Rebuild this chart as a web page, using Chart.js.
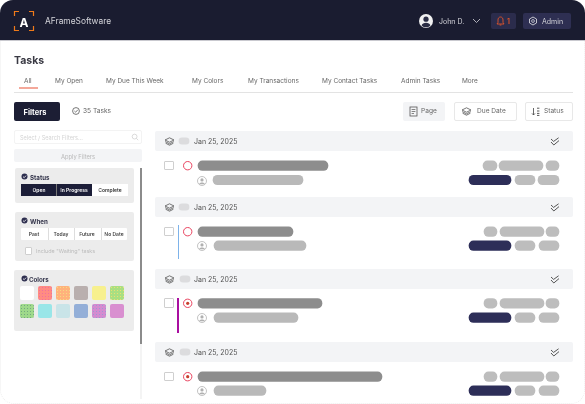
<!DOCTYPE html>
<html>
<head>
<meta charset="utf-8">
<title>Tasks</title>
<script src="https://cdn.jsdelivr.net/npm/chart.js@4"></script>
<style>
html, body { margin: 0; padding: 0; background: #fff; }
body { width: 585px; height: 404px; overflow: hidden; position: relative; font-family: Inter, sans-serif; color: #555; }
#ui { position: absolute; left: 0; top: 0; width: 585px; height: 404px; }
#ui div, #ui span, #ui svg { position: absolute; box-sizing: border-box; }
.t { white-space: nowrap; transform: translateY(-50%); will-change: transform; }
.c { white-space: nowrap; transform: translate(-50%, -50%); will-change: transform; }
#wrap { position: absolute; left: 0; top: 0; width: 585px; height: 404px; pointer-events: none; }
</style>
</head>
<body>
<div id="ui"></div>
<div id="wrap"><canvas id="tasks"></canvas></div>
<script>
// labels
const tabs = ['All', 'My Open', 'My Due This Week', 'My Colors', 'My Transactions', 'My Contact Tasks', 'Admin Tasks', 'More'];
const tabX = [24, 55, 106, 192, 248, 322, 401, 462];
const statusOptions = ['Open', 'In Progress', 'Complete'];
const whenOptions = ['Past', 'Today', 'Future', 'No Date'];
const swatches = [
  ['#ffffff', null], ['#ff8c82', '#ee6fa0'], ['#ffb27c', '#f5dc80'], ['#b9afae', null], ['#f7f08e', null], ['#a9df82', '#ecdf70'],
  ['#9fd98b', '#74a880'], ['#99e6e8', null], ['#c9e4e8', null], ['#94afd8', null], ['#d48bd0', '#9a9ad4'], ['#d98fd0', null]
];

// task rows
const headerRows = [141, 207, 279, 352];
const headerChipStart = [179, 179, 180, 180];
const headerChipEnd = [189, 189, 190, 190];
const titleRows = [165.7, 231.7, 303.3, 376.7];
const titleStart = [198, 198, 198, 198];
const titleEnd = [328, 293, 322, 382];
const ownerRows = [180, 245.7, 317.7, 390.7];
const ownerStart = [213, 214, 214, 214];
const ownerEnd = [303, 306, 298, 266];
const chipAStart = [483, 484, 484, 484];
const chipAEnd = [497, 497, 497, 497];
const chipBStart = [499, 500, 500, 500];
const chipBEnd = [543, 544, 544, 544];
const chipCStart = [546, 546, 546, 546];
const chipCEnd = [559, 559, 559, 559];
const badgeStart = [469, 469, 469, 469];
const badgeEnd = [511, 511, 511, 511];
const chipDStart = [515, 515, 515, 515];
const chipDEnd = [535, 535, 535, 535];
const chipEStart = [538, 539, 539, 539];
const chipEEnd = [559, 559, 559, 559];
const dotted = [false, false, true, true];

const ui = document.getElementById('ui');

function box(x, y, w, h, css) {
  let d = document.createElement('div');
  d.style.cssText = `left:${x}px;top:${y}px;width:${w}px;height:${h}px;${css || ''}`;
  ui.appendChild(d);
  return d;
}
function text(str, x, y, size, color, weight, center) {
  let d = document.createElement('span');
  d.className = center ? 'c' : 't';
  d.textContent = str;
  d.style.cssText = `left:${x}px;top:${y}px;font-size:${size}px;color:${color};font-weight:${weight || 400};`;
  ui.appendChild(d);
  return d;
}
function icon(x, y, w, h, inner) {
  let holder = document.createElement('div');
  holder.style.cssText = `left:${x}px;top:${y}px;width:${w}px;height:${h}px;`;
  holder.innerHTML = `<svg style="left:0;top:0" width="${w}" height="${h}" viewBox="0 0 ${w} ${h}" fill="none">${inner}</svg>`;
  ui.appendChild(holder);
}
function layers(x, y, col) {
  icon(x, y, 11, 9, `<path d="M5.5 .8 10 3 5.5 5.2 1 3Z M1.2 4.6 5.5 6.8 9.8 4.6 M1.6 6.2 5.5 8.2 9.4 6.2" stroke="${col}" stroke-width=".8"/>`);
}
function doubleCheck(x, y) {
  icon(x, y, 10, 9, `<path d="M1 2 3.6 4.4 8.6 .8 M1 5 3.8 8 9 3.6" stroke="#444" stroke-width=".9"/>`);
}
function avatar(x, y) {
  icon(x, y, 10, 10, `<circle cx="5" cy="5" r="4.5" fill="#fff" stroke="#b4b4b4" stroke-width=".8"/><circle cx="5" cy="3.9" r="1.6" fill="#b0b0b0"/><path d="M2 8.2C2.6 5.8 7.4 5.8 8 8.2Z" fill="#b0b0b0"/>`);
}
function tick(x, y) {
  icon(x, y, 7, 7, `<circle cx="3.5" cy="3.5" r="3" fill="#2e2f4f"/><path d="M2 3.6 3.2 4.7 5.1 2.6" stroke="#fff" stroke-width=".8"/>`);
}

// page edge
box(0, 0, 585, 404, 'border-radius:14px;border:1px dotted #eee;');

// top bar
box(0, 0, 585, 41, 'background:#1a1c30;border-radius:13px 13px 0 0;border-bottom:1px solid #c9c9cf;');
icon(13, 10, 22, 22, `<path d="M1.5 6V1.5H6 M16 1.5H20.5V6 M1.5 16V20.5H6 M16 20.5H20.5V16" stroke="#f07a1a" stroke-width="1.2"/>`);
text('A', 24, 21.5, 12, '#fff', 700, true);
text('AFrameSoftware', 45, 20.5, 8.4, '#d4d4da', 400);
icon(419, 14, 14, 14, `<circle cx="7" cy="7" r="7" fill="#f1f1f1"/><circle cx="7" cy="5.2" r="2.6" fill="#2a2c44"/><path d="M2.6 11.4C3.4 8 10.6 8 11.4 11.4 9 14 5 14 2.6 11.4Z" fill="#2a2c44"/>`);
text('John D.', 439, 20.5, 7, '#d4d4da');
icon(472, 18, 9, 6, `<path d="M1 1 4.5 4.5 8 1" stroke="#d4d4da" stroke-width=".8"/>`);
box(491, 13, 25, 16, 'background:#2b2c4c;border-radius:2px;');
icon(496, 16, 9, 10, `<path d="M4.5 1C2.8 1 2 2.4 2 4V6.4L1 8H8L7 6.4V4C7 2.4 6.2 1 4.5 1Z M3.6 9H5.4" stroke="#e2552a" stroke-width=".9"/>`);
text('1', 507, 20.5, 7, '#e2552a', 600);
box(523, 13, 48, 16, 'background:#2e2f52;border-radius:2px;');
icon(528, 16, 10, 10, `<path d="M5 1 8.5 3V7L5 9 1.5 7V3Z" stroke="#d4d4da" stroke-width=".9"/><circle cx="5" cy="5" r="1.4" stroke="#d4d4da" stroke-width=".8"/>`);
text('Admin', 541.5, 20.5, 7, '#d4d4da', 400);

// title and tabs
text('Tasks', 14, 60, 10.5, '#3a3a44', 700);
tabs.forEach((label, i) => text(label, tabX[i], 80.5, 6.5, '#666'));
box(19, 87, 19, 1.5, 'background:#f4a89a;');
box(14, 92, 559, 1, 'background:#e3e3e3;');

// toolbar
box(14, 102, 46, 19, 'background:#1c1e34;border-radius:2px;');
text('Filters', 35, 111.5, 7.5, '#fff', 700, true);
icon(71, 106, 10, 10, `<circle cx="5" cy="5" r="3.4" stroke="#555" stroke-width=".8"/><path d="M3.4 5 4.6 6.2 6.8 3.8" stroke="#555" stroke-width=".8"/>`);
text('35 Tasks', 83, 111, 6.6, '#666');
box(403, 102, 42, 19, 'background:#f3f4f6;border-radius:2px;');
icon(409, 106, 9, 11, `<rect x="1" y="1" width="7" height="9" stroke="#555" stroke-width=".8"/><path d="M2.6 3.5H6.4 M2.6 5.5H6.4 M2.6 7.5H5" stroke="#555" stroke-width=".7"/>`);
text('Page', 421, 111, 6.6, '#666');
box(454, 102, 63, 19, 'background:#fff;border:1px solid #e8e8e8;border-radius:2px;');
layers(461, 107, '#555');
text('Due Date', 476.5, 111, 6.6, '#666');
box(525, 102, 48, 19, 'background:#fff;border:1px solid #e8e8e8;border-radius:2px;');
icon(531, 107, 10, 10, `<path d="M2.5 1V8 M1 6.4 2.5 8 4 6.4" stroke="#444" stroke-width=".8"/><path d="M6 1.2H8.4 M6 4H8.4 M6 6.4H8.4 M6 8.4H8.4" stroke="#444" stroke-width=".9"/>`);
text('Status', 543.5, 111, 6.6, '#666');

// filter column
box(14, 130, 128, 14, 'background:#fff;border:1px solid #f3f3f3;border-radius:2px;');
text('Select / Search Filters...', 20, 137.5, 5.6, '#d4d4d4');
icon(131, 133, 8, 8, `<circle cx="3.6" cy="3.6" r="2.4" stroke="#ccc" stroke-width=".7"/><path d="M5.4 5.4 7.2 7.2" stroke="#ccc" stroke-width=".7"/>`);
box(14, 149, 128, 13, 'background:#f3f4f6;border-radius:2px;');
text('Apply Filters', 78, 156, 5.8, '#b8b8b8', 400, true);

box(15, 168, 119, 35, 'background:#ececec;border-radius:2px;');
tick(21, 173);
text('Status', 30, 176.5, 6.2, '#33344a', 700);
statusOptions.forEach((label, i) => {
  let on = i < 2;
  box(21 + i * 35.5, 184, 35.5, 12, `background:${on ? '#1c1e38' : '#fff'};${i == 0 ? 'border-right:1px solid #777;' : ''}`);
  text(label, 38.7 + i * 35.5, 190.3, 5, on ? '#fff' : '#333', 600, true);
});

box(15, 212, 119, 49, 'background:#ececec;border-radius:2px;');
tick(21, 217);
text('When', 30, 220.5, 6.2, '#33344a', 700);
box(21, 228, 106, 12, 'background:#fff;border-radius:1px;');
whenOptions.forEach((label, i) => {
  if (i) box(21 + i * 26.5, 228, 1, 12, 'background:#ddd;');
  text(label, 34.2 + i * 26.5, 234.3, 5, '#444', 600, true);
});
box(25, 247, 7, 7.5, 'background:#fff;border:1px solid #cfcfcf;border-radius:1px;');
text('Include "Waiting" tasks', 36, 251, 5.4, '#bbb');

box(14, 270, 120, 61, 'background:#ececec;border-radius:2px;');
tick(21, 275);
text('Colors', 29, 278.5, 6.2, '#33344a', 700);
swatches.forEach((sw, i) => {
  let col = i % 6, row = Math.floor(i / 6);
  let dots = sw[1] ? `background-image:radial-gradient(${sw[1]} 0.7px, transparent 0.9px);background-size:3px 3px;` : '';
  box(20 + col * 18, 286 + row * 18, 14, 14, `background-color:${sw[0]};${dots}border-radius:2px;`);
});
box(139.5, 168, 2.5, 176, 'background:#8b8b8b;');
box(139.5, 344, 2.5, 55, 'background:#f4f4f4;');

// group headers
headerRows.forEach(y => {
  box(155, y - 10, 418, 20, 'background:#f3f4f6;border-radius:2px;');
  layers(164, y - 4.5, '#555');
  text('Jan 25, 2025', 194, y, 7, '#555');
  doubleCheck(550, y - 4.5);
});

// task rows
titleRows.forEach((y, i) => {
  box(164, y - 5, 9.5, 9.5, 'background:#fff;border:1px solid #cfcfcf;border-radius:1px;');
  avatar(197, ownerRows[i] - 4.5);
});
box(177.5, 225, 1.2, 34, 'background:#7eb3ea;');
box(177.3, 298, 1.6, 35, 'background:#a90fa0;');

// pills and status rings go on the chart
const toBars = (rows, start, end) => rows.map((y, i) => ({ x: [start[i], end[i]], y: y }));

new Chart(document.getElementById('tasks'), {
  data: {
    datasets: [
      // lower index draws on top, so the dot has to come before the ring
      { type: 'scatter', label: 'Status dot', data: titleRows.filter((y, i) => dotted[i]).map(y => ({ x: 187.7, y: y })), pointRadius: 1.6, borderWidth: 0, backgroundColor: '#c8402f' },
      { type: 'scatter', label: 'Status ring', data: titleRows.map(y => ({ x: 187.7, y: y })), pointRadius: 4.2, borderColor: '#e8435f', borderWidth: 1, backgroundColor: '#fff' },
      { type: 'bar', label: 'Header chip', data: toBars(headerRows, headerChipStart, headerChipEnd), backgroundColor: '#dcdcde', barThickness: 6.5 },
      { type: 'bar', label: 'Title', data: toBars(titleRows, titleStart, titleEnd), backgroundColor: '#8d8d8d', barThickness: 9.5 },
      { type: 'bar', label: 'Owner', data: toBars(ownerRows, ownerStart, ownerEnd), backgroundColor: '#b9b9b9', barThickness: 9.5 },
      { type: 'bar', label: 'Chip A', data: toBars(titleRows, chipAStart, chipAEnd), backgroundColor: '#bdbdbd', barThickness: 9.5 },
      { type: 'bar', label: 'Chip B', data: toBars(titleRows, chipBStart, chipBEnd), backgroundColor: '#bdbdbd', barThickness: 9.5 },
      { type: 'bar', label: 'Chip C', data: toBars(titleRows, chipCStart, chipCEnd), backgroundColor: '#bdbdbd', barThickness: 9.5 },
      { type: 'bar', label: 'Badge', data: toBars(ownerRows, badgeStart, badgeEnd), backgroundColor: '#2d2e58', barThickness: 9.5 },
      { type: 'bar', label: 'Chip D', data: toBars(ownerRows, chipDStart, chipDEnd), backgroundColor: '#bdbdbd', barThickness: 9.5 },
      { type: 'bar', label: 'Chip E', data: toBars(ownerRows, chipEStart, chipEEnd), backgroundColor: '#bdbdbd', barThickness: 9.5 }
    ]
  },
  options: {
    indexAxis: 'y',
    responsive: true,
    maintainAspectRatio: false,
    animation: false,
    layout: { padding: 0, autoPadding: false },
    datasets: { bar: { grouped: false, borderRadius: 5, borderSkipped: false } },
    plugins: { legend: { display: false }, tooltip: { enabled: false } },
    scales: {
      x: { type: 'linear', min: 0, max: 585, offset: false, display: false },
      y: { type: 'linear', min: 0, max: 404, reverse: true, offset: false, display: false }
    }
  }
});
</script>
</body>
</html>
